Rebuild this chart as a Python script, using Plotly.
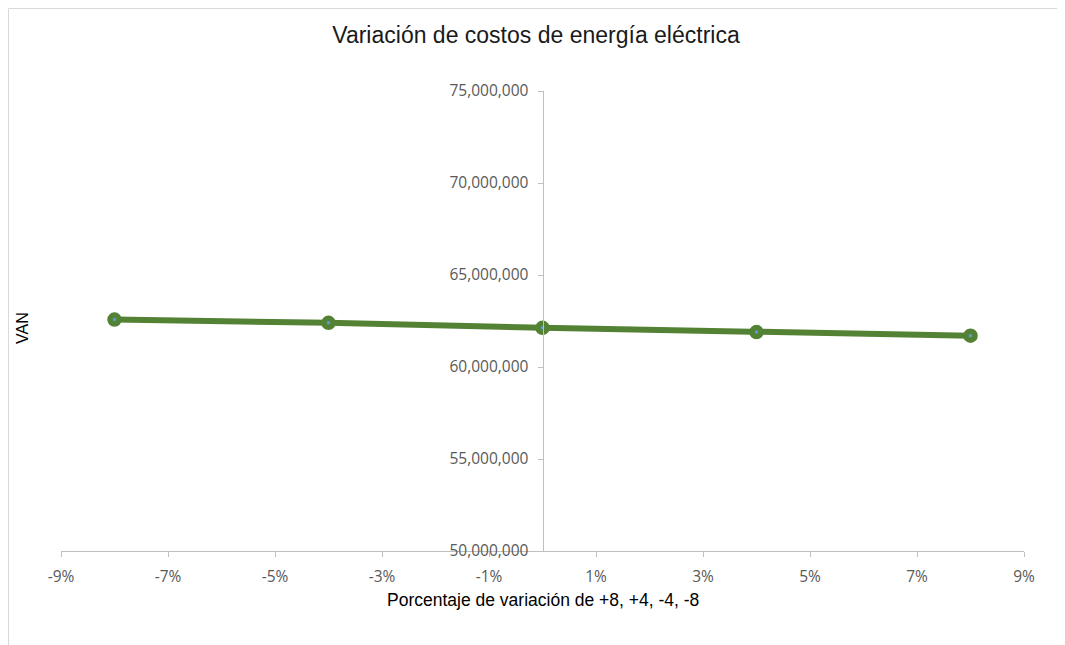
import plotly.graph_objects as go

# Data
variacion = [-0.08, -0.04, 0.0, 0.04, 0.08]
van = [62580000, 62400000, 62130000, 61900000, 61700000]
x_tickvals = [-0.09, -0.07, -0.05, -0.03, -0.01, 0.01, 0.03, 0.05, 0.07, 0.09]
x_ticklabels = ["-9%", "-7%", "-5%", "-3%", "-1%", "1%", "3%", "5%", "7%", "9%"]
y_tickvals = [50000000, 55000000, 60000000, 65000000, 70000000, 75000000]

title_text = "Variación de costos de energía eléctrica"
x_title = "Porcentaje de variación de +8, +4, -4, -8"
y_title = "VAN"

green = "#548235"
axis_col = "#bfbfbf"
tick_font = dict(family="Open Sans", size=15.5, color="#595959")

W, H = 1065, 645
OFF = 8  # page body margin
L, R, T, B = 61 - OFF, 1024 - OFF, 91 - OFF, 551 - OFF
PW, PH = R - L, B - T


def px(x):
    return (x - OFF - L) / PW


def py(y):
    return (B - (y - OFF)) / PH


fig = go.Figure()
fig.add_trace(go.Scatter(
    x=variacion, y=van, mode="lines+markers",
    line=dict(color=green, width=6),
    marker=dict(size=9, color="#5b9bd5", line=dict(color=green, width=5.5)),
    showlegend=False, hoverinfo="x+y",
))

fig.update_layout(
    width=W, height=H,
    margin=dict(l=L, r=W - R, t=T, b=H - B, pad=0),
    paper_bgcolor="white", plot_bgcolor="white",
    title=dict(text=title_text, x=(536 - OFF) / W, xanchor="center", y=1 - (35 - OFF) / H, yanchor="middle",
               font=dict(family="Liberation Sans", size=23, color="#1a1a1a")),
    xaxis=dict(
        range=[-0.09, 0.09], tickvals=x_tickvals, ticktext=x_ticklabels,
        showgrid=False, zeroline=False, showline=True, linecolor=axis_col, linewidth=1,
        ticks="outside", ticklen=5, tickcolor=axis_col, tickfont=tick_font,
        ticklabelstandoff=6,
    ),
    yaxis=dict(
        range=[50000000, 75000000], tickvals=y_tickvals, tickformat=",",
        anchor="free", position=0.5,
        showgrid=False, zeroline=False, showline=True, linecolor=axis_col, linewidth=1,
        ticks="outside", ticklen=5, tickcolor=axis_col, tickfont=tick_font,
        ticklabelstandoff=6,
    ),
    shapes=[dict(type="rect", xref="paper", yref="paper",
                 x0=px(8.5), x1=px(1064), y0=py(700), y1=py(8.5),
                 line=dict(color="#d9d9d9", width=1), fillcolor="rgba(0,0,0,0)", layer="below")],
    annotations=[
        dict(text=x_title, xref="paper", yref="paper", x=px(543), y=py(600),
             xanchor="center", yanchor="middle", showarrow=False,
             font=dict(family="Liberation Sans", size=17.5, color="#000000")),
        dict(text=y_title, xref="paper", yref="paper", x=px(22), y=py(328),
             xanchor="center", yanchor="middle", showarrow=False, textangle=-90,
             font=dict(family="Liberation Sans", size=16, color="#000000")),
    ],
)

fig.write_html("out.html")
